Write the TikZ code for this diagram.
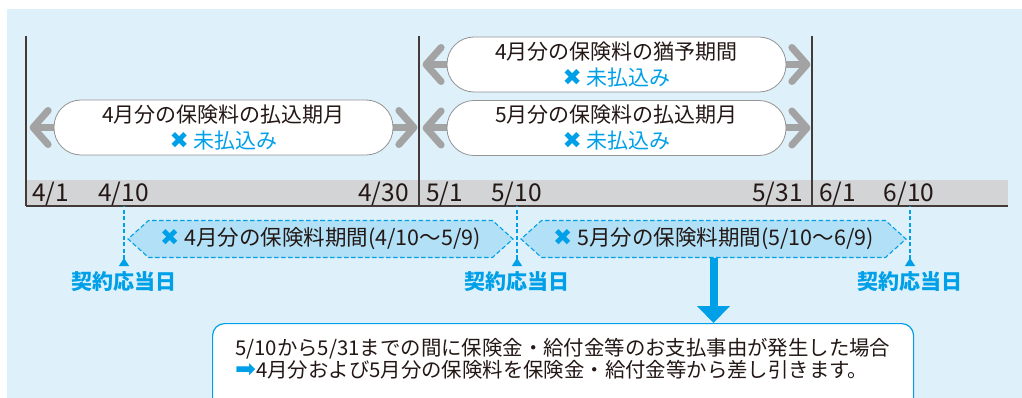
\documentclass[tikz,border=0pt]{standalone}
\usepackage{fontspec}
\setmainfont{Noto Sans CJK JP}
\newfontfamily\symfont{DejaVu Sans}
\usetikzlibrary{arrows.meta,shapes.symbols,backgrounds}

\definecolor{bgblue}{RGB}{222,241,251}
\definecolor{cyanline}{RGB}{0,160,233}
\definecolor{hexfill}{RGB}{178,224,246}
\definecolor{bargray}{RGB}{211,212,214}
\definecolor{arrgray}{RGB}{163,163,163}
\definecolor{inkblack}{RGB}{35,24,21}

\newcommand{\crossmark}{{\color{cyanline}\fontsize{23}{16}\selectfont\symfont ✖}}
\newcommand{\unpaid}{{\color{cyanline}\crossmark\ 未払込み}}

\begin{document}
\begin{tikzpicture}[x=1pt, y=-1pt, font=\fontsize{21}{26}\selectfont, text=inkblack]
\tikzstyle{pill}=[draw=arrgray!90!black, line width=0.8pt, fill=white, rounded corners=27pt, minimum width=339pt, minimum height=55pt, align=center, inner sep=0pt]
\tikzstyle{grayarrow}=[draw=arrgray, line width=7pt, {Straight Barb[length=15pt,width=34pt,round]}-{Straight Barb[length=15pt,width=34pt,round]}]
\tikzstyle{period}=[shape=signal, signal to=west and east, signal pointer angle=84, draw=cyanline, dash pattern=on 4.5pt off 2.5pt, line width=1.1pt, fill=hexfill, minimum width=385pt, minimum height=37pt, inner sep=0pt, font=\fontsize{21.5}{24}\selectfont]
\tikzstyle{divider}=[draw=inkblack!85, line width=1.2pt]
\tikzstyle{barline}=[draw=inkblack!85, line width=1.6pt]
\tikzstyle{date}=[anchor=base, inner sep=0pt, font=\fontsize{24.5}{27}\selectfont]
\tikzstyle{markline}=[draw=cyanline, line width=1.1pt, dash pattern=on 4pt off 2.5pt, {Triangle[length=8pt,width=10pt,reversed]}-]
\tikzstyle{anniv}=[text=cyanline, inner sep=0pt, font=\fontsize{21}{25}\selectfont\bfseries]
\tikzstyle{bigarrow}=[draw=cyanline, line width=8pt, -{Triangle[length=17pt,width=32pt]}]
\tikzstyle{notebox}=[draw=cyanline, line width=1.2pt, fill=white, rounded corners=12pt, anchor=north west, minimum width=701pt, minimum height=110pt]
\tikzstyle{notetext}=[anchor=north west, align=left, inner sep=0pt, font=\fontsize{20.4}{22.5}\selectfont]

\path[use as bounding box, clip] (0,0) rectangle (1022,398);

\node[pill] (p1) at (223.5,127.5) {4月分の保険料の払込期月\\\unpaid};
\node[pill] (p2) at (616.5,64.5) {4月分の保険料の猶予期間\\\unpaid};
\node[pill] (p3) at (616.5,128) {5月分の保険料の払込期月\\\unpaid};

\begin{pgfonlayer}{background}
\fill[bgblue] (7,9) rectangle (1022,398);
\fill[bargray] (26,180) rectangle (1008,206);
\draw[barline] (26,206) -- (1008,206);
\foreach \x in {26,419,812}
  \draw[divider] (\x,36) -- (\x,206);
\foreach \p in {p1,p2,p3}
  \draw[grayarrow] ([xshift=-24pt]\p.west) -- ([xshift=24pt]\p.east);
\end{pgfonlayer}

\foreach \t/\x [count=\i] in {{4/1}/50.5, {4/10}/123.5, {4/30}/383.5, {5/1}/444.5, {5/10}/516.5, {5/31}/777.5, {6/1}/837.5, {6/10}/909}
  \node[date] (d\i) at (\x,201.5) {\t};

\node[period] (h1) at (320.5,239) {\crossmark\ 4月分の保険料期間(4/10〜5/9)};
\node[period] (h2) at (713.5,239) {\crossmark\ 5月分の保険料期間(5/10〜6/9)};

\foreach \x [count=\i] in {124,517,910} {
  \coordinate (m\i) at (\x,206);
  \coordinate (t\i) at (\x,266);
  \draw[markline] (t\i) -- (m\i);
  \node[anniv] (k\i) at (\x,282) {契約応当日};
}

\node[notebox] (note) at (212,323) {};
\node[notetext] (nt) at (235,338) {5/10から5/31までの間に保険金・給付金等のお支払事由が発生した場合\\{\color{cyanline}\fontsize{25}{22.5}\selectfont\symfont ➡}4月分および5月分の保険料を保険金・給付金等から差し引きます。};
\draw[bigarrow] (h2.south) -- (h2.south |- note.north);
\end{tikzpicture}
\end{document}
